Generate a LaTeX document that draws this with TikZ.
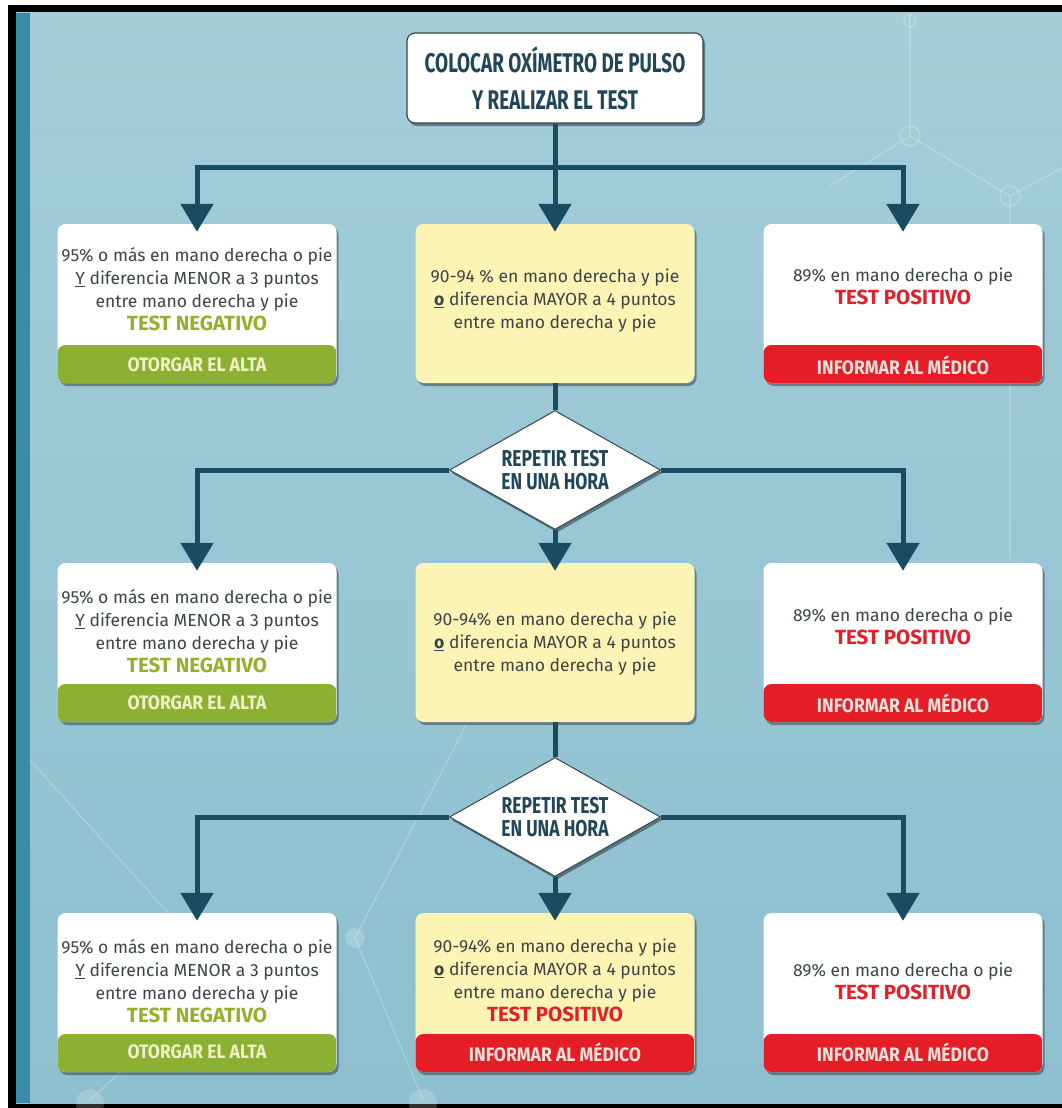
\documentclass[tikz,border=0pt]{standalone}
\usepackage{fontspec}
\setmainfont{Fira Sans}
\newfontfamily\headfont[FakeStretch=0.7]{Fira Sans}
\newfontfamily\diafont[FakeStretch=0.76]{Fira Sans}
\newfontfamily\barfont[FakeStretch=0.9]{Fira Sans}
\usetikzlibrary{shapes.geometric,arrows.meta,shadows}
\definecolor{bgtop}{HTML}{A4CDDA}
\definecolor{bgbot}{HTML}{8DBFCF}
\definecolor{stripc}{HTML}{3A8BA5}
\definecolor{linecol}{HTML}{1B4B61}
\definecolor{headtxt}{HTML}{21465A}
\definecolor{bodytxt}{HTML}{3B4448}
\definecolor{txtgreen}{HTML}{98AF2C}
\definecolor{bargreen}{HTML}{8CB032}
\definecolor{txtred}{HTML}{E3202A}
\definecolor{barred}{HTML}{E41D27}
\definecolor{cardyellow}{HTML}{FCF4B4}
\definecolor{gcream}{HTML}{EEF1C6}
\definecolor{rcream}{HTML}{F8E2DC}
\definecolor{edgec}{HTML}{34464F}
\tikzset{
  card/.style={rectangle, rounded corners=8pt, minimum width=279pt, minimum height=159pt,
    inner sep=0pt, fill=white,
    drop shadow={shadow xshift=2pt, shadow yshift=-3pt, opacity=0.35, fill=black}},
  ycard/.style={card, fill=cardyellow},
  gbar/.style={path picture={\fill[bargreen] ([yshift=38pt]path picture bounding box.south west) rectangle (path picture bounding box.south east);}},
  rbar/.style={path picture={\fill[barred] ([yshift=38pt]path picture bounding box.south west) rectangle (path picture bounding box.south east);}},
  body/.style={align=center, inner sep=0pt, text=bodytxt, font=\fontsize{17.5}{23}\selectfont},
  gbartext/.style={inner sep=0pt, text=gcream, font=\barfont\bfseries\fontsize{19.5}{21}\selectfont},
  rbartext/.style={inner sep=0pt, text=rcream, font=\barfont\bfseries\fontsize{19.5}{21}\selectfont},
  startbox/.style={rectangle, rounded corners=8pt, minimum width=296pt, minimum height=90pt,
    fill=white, draw=edgec, line width=1.2pt, align=center, text=headtxt,
    font=\headfont\bfseries\fontsize{27}{37}\selectfont,
    drop shadow={shadow xshift=2pt, shadow yshift=-3pt, opacity=0.4, fill=black}},
  decide/.style={diamond, minimum width=211pt, minimum height=119pt, inner sep=0pt, aspect=1.75,
    fill=white, draw=edgec, line width=1pt, align=center, text=headtxt,
    font=\diafont\bfseries\fontsize{23}{23}\selectfont,
    drop shadow={shadow xshift=2pt, shadow yshift=-3pt, opacity=0.4, fill=black}},
  conn/.style={draw=linecol, line width=5pt},
  arr/.style={conn, -{Triangle[width=32pt,length=28pt]}, shorten >=-8pt},
  deco/.style={draw=white, opacity=0.2, line width=1.6pt},
}
\newcommand{\tneg}{{\bfseries\color{txtgreen}\fontsize{20.5}{23}\selectfont TEST NEGATIVO}}
\newcommand{\tpos}{{\bfseries\color{txtred}\fontsize{20.5}{23}\selectfont TEST POSITIVO}}
\begin{document}
\begin{tikzpicture}[x=1pt,y=-1pt]
\useasboundingbox (0,0) rectangle (1062,1108);
\fill[white] (0,0) rectangle (1062,1108);
\fill[black] (8,5) rectangle (1062,1108);
\shade[top color=bgtop, bottom color=bgbot] (16,13) rectangle (1062,1103);
\fill[stripc] (16,13) rectangle (30,1103);
% background decoration
\draw[deco] (910,13) -- (910,136) -- (830,186);
\draw[deco] (910,136) -- (1010,196) -- (1062,168);
\draw[deco] (1010,196) -- (1010,560);
\draw[deco] (910,21) circle (6);
\draw[deco] (910,136) circle (10);
\draw[deco] (1010,196) circle (10);
\draw[deco] (30,760) -- (170,915);
\draw[deco] (500,660) -- (355,938) -- (423,1100);
\draw[deco] (120,1072) -- (90,1100);
\fill[white, opacity=0.18] (355,938) circle (10);
\fill[white, opacity=0.18] (90,1103) circle (14);
\fill[white, opacity=0.18] (423,1103) circle (14);
% start
\node[startbox] (T) at (555,78) {COLOCAR OXÍMETRO DE PULSO\\Y REALIZAR EL TEST};
% row 1
\node[card, gbar] (L1) at (197,303.5) {};
\node[ycard] (M1) at (555,303.5) {};
\node[card, rbar] (R1) at (903,303.5) {};
\node[body] (L1t) at (197,289) {95\% o más en mano derecha o pie\\\underline{Y} diferencia MENOR a 3 puntos\\entre mano derecha y pie\\\tneg};
\node[gbartext] (L1b) at (197,365) {OTORGAR EL ALTA};
\node[body] (M1t) at (555,301) {90-94 \% en mano derecha y pie\\\underline{\textbf{o}} diferencia MAYOR a 4 puntos\\entre mano derecha y pie};
\node[body] (R1t) at (903,286) {89\% en mano derecha o pie\\\tpos};
\node[rbartext] (R1b) at (903,365) {INFORMAR AL MÉDICO};
% decision 1
\node[decide] (D1) at (555,470) {REPETIR TEST\\EN UNA HORA};
% row 2
\node[card, gbar] (L2) at (197,642.5) {};
\node[ycard] (M2) at (555,642.5) {};
\node[card, rbar] (R2) at (903,642.5) {};
\node[body] (L2t) at (197,631) {95\% o más en mano derecha o pie\\\underline{Y} diferencia MENOR a 3 puntos\\entre mano derecha y pie\\\tneg};
\node[gbartext] (L2b) at (197,703) {OTORGAR EL ALTA};
\node[body] (M2t) at (555,644) {90-94\% en mano derecha y pie\\\underline{\textbf{o}} diferencia MAYOR a 4 puntos\\entre mano derecha y pie};
\node[body] (R2t) at (903,626) {89\% en mano derecha o pie\\\tpos};
\node[rbartext] (R2b) at (903,703) {INFORMAR AL MÉDICO};
% decision 2
\node[decide] (D2) at (555,817) {REPETIR TEST\\EN UNA HORA};
% row 3
\node[card, gbar] (L3) at (197,992.5) {};
\node[ycard, rbar] (M3) at (555,992.5) {};
\node[card, rbar] (R3) at (903,992.5) {};
\node[body] (L3t) at (197,981) {95\% o más en mano derecha o pie\\\underline{Y} diferencia MENOR a 3 puntos\\entre mano derecha y pie\\\tneg};
\node[gbartext] (L3b) at (197,1052) {OTORGAR EL ALTA};
\node[body] (M3t) at (555,980) {90-94\% en mano derecha y pie\\\underline{\textbf{o}} diferencia MAYOR a 4 puntos\\entre mano derecha y pie\\\tpos};
\node[rbartext] (M3b) at (555,1052) {INFORMAR AL MÉDICO};
\node[body] (R3t) at (903,981) {89\% en mano derecha o pie\\\tpos};
\node[rbartext] (R3b) at (903,1052) {INFORMAR AL MÉDICO};
% connectors
\coordinate (J1) at (555,167);
\draw[arr] (T.south) -- (M1.north);
\draw[arr] (J1) -| (L1.north);
\draw[arr] (J1) -| (R1.north);
\draw[conn] (M1.south) -- (D1.north);
\draw[arr] (D1.west) -| (L2.north);
\draw[arr] (D1.east) -| (R2.north);
\draw[arr] (D1.south) -- (M2.north);
\draw[conn] (M2.south) -- (D2.north);
\draw[arr] (D2.west) -| (L3.north);
\draw[arr] (D2.east) -| (R3.north);
\draw[arr] (D2.south) -- (M3.north);
\end{tikzpicture}
\end{document}
